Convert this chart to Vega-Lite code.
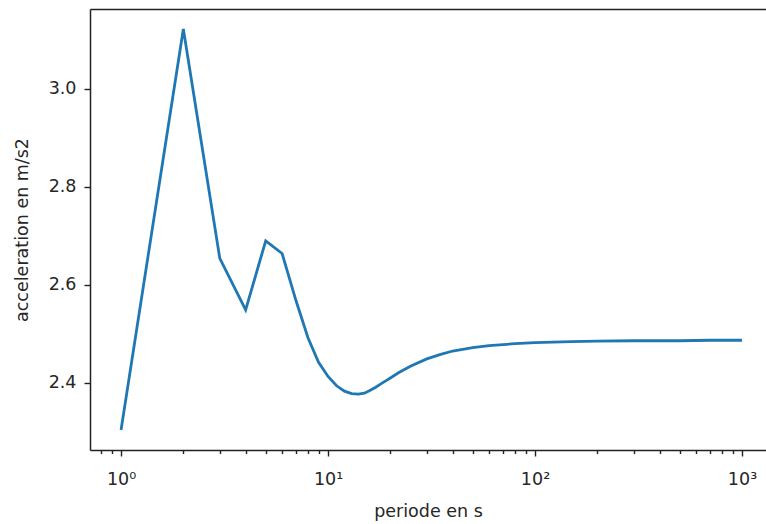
{
  "$schema": "https://vega.github.io/schema/vega-lite/v6.json",
  "width": 676,
  "height": 441,
  "autosize": {"type": "none"},
  "padding": {"left": 90, "top": 9, "right": 0, "bottom": 74},
  "background": "white",
  "config": {"view": {"stroke": null}, "font": "DejaVu Sans"},
  "data": {"values": [
    {"periode": 1, "acceleration": 2.304},
    {"periode": 2, "acceleration": 3.122},
    {"periode": 3, "acceleration": 2.654},
    {"periode": 4, "acceleration": 2.549},
    {"periode": 5, "acceleration": 2.690},
    {"periode": 6, "acceleration": 2.664},
    {"periode": 7, "acceleration": 2.568},
    {"periode": 8, "acceleration": 2.492},
    {"periode": 9, "acceleration": 2.442},
    {"periode": 10, "acceleration": 2.413},
    {"periode": 11, "acceleration": 2.394},
    {"periode": 12, "acceleration": 2.383},
    {"periode": 13, "acceleration": 2.378},
    {"periode": 14, "acceleration": 2.377},
    {"periode": 15, "acceleration": 2.379},
    {"periode": 16, "acceleration": 2.385},
    {"periode": 17, "acceleration": 2.391},
    {"periode": 18, "acceleration": 2.398},
    {"periode": 19, "acceleration": 2.404},
    {"periode": 20, "acceleration": 2.410},
    {"periode": 22, "acceleration": 2.421},
    {"periode": 25, "acceleration": 2.434},
    {"periode": 30, "acceleration": 2.449},
    {"periode": 35, "acceleration": 2.458},
    {"periode": 40, "acceleration": 2.465},
    {"periode": 50, "acceleration": 2.472},
    {"periode": 60, "acceleration": 2.476},
    {"periode": 80, "acceleration": 2.480},
    {"periode": 100, "acceleration": 2.482},
    {"periode": 150, "acceleration": 2.484},
    {"periode": 200, "acceleration": 2.485},
    {"periode": 300, "acceleration": 2.486},
    {"periode": 500, "acceleration": 2.486},
    {"periode": 700, "acceleration": 2.487},
    {"periode": 1000, "acceleration": 2.487}
  ]},
  "layer": [
    {
      "mark": {"type": "line", "color": "#1f77b4", "strokeWidth": 2.8, "clip": true},
      "encoding": {
        "x": {
          "field": "periode",
          "type": "quantitative",
          "scale": {"type": "log", "domain": [0.708, 1306], "nice": false},
          "axis": {
            "orient": "bottom",
            "title": "periode en s",
            "grid": false,
            "values": [0.8, 0.9, 1, 2, 3, 4, 5, 6, 7, 8, 9, 10, 20, 30, 40, 50, 60, 70, 80, 90, 100, 200, 300, 400, 500, 600, 700, 800, 900, 1000],
            "labelExpr": "datum.value == 1 ? '10⁰' : datum.value == 10 ? '10¹' : datum.value == 100 ? '10²' : datum.value == 1000 ? '10³' : ''",
            "labelOverlap": false,
            "labelBound": false,
            "labelFlush": false,
            "tickSize": {"condition": {"test": "datum.value == 1 || datum.value == 10 || datum.value == 100 || datum.value == 1000", "value": 6}, "value": 3.5},
            "tickColor": "#222",
            "tickWidth": 1.4,
            "domainColor": "#222",
            "domainWidth": 1.5,
            "labelFontSize": 17.5,
            "labelColor": "#262626",
            "labelPadding": 14,
            "titleFontSize": 17.5,
            "titleFontWeight": "normal",
            "titleColor": "#262626",
            "titlePadding": 15
          }
        },
        "y": {
          "field": "acceleration",
          "type": "quantitative",
          "scale": {"domain": [2.263, 3.163], "nice": false, "zero": false},
          "axis": {
            "title": "acceleration en m/s2",
            "grid": false,
            "values": [2.4, 2.6, 2.8, 3.0],
            "format": ".1f",
            "tickSize": 6,
            "tickColor": "#222",
            "tickWidth": 1.4,
            "domainColor": "#222",
            "domainWidth": 1.5,
            "labelFontSize": 17.5,
            "labelColor": "#262626",
            "labelPadding": 8,
            "titleFontSize": 17.5,
            "titleFontWeight": "normal",
            "titleColor": "#262626",
            "titlePadding": 17
          }
        }
      }
    },
    {
      "mark": {"type": "line", "strokeOpacity": 0},
      "encoding": {
        "x": {
          "field": "periode",
          "type": "quantitative",
          "axis": {"orient": "top", "labels": false, "ticks": false, "title": null, "grid": false, "domainColor": "#222", "domainWidth": 1.5}
        }
      }
    }
  ],
  "resolve": {"axis": {"x": "independent"}}
}
